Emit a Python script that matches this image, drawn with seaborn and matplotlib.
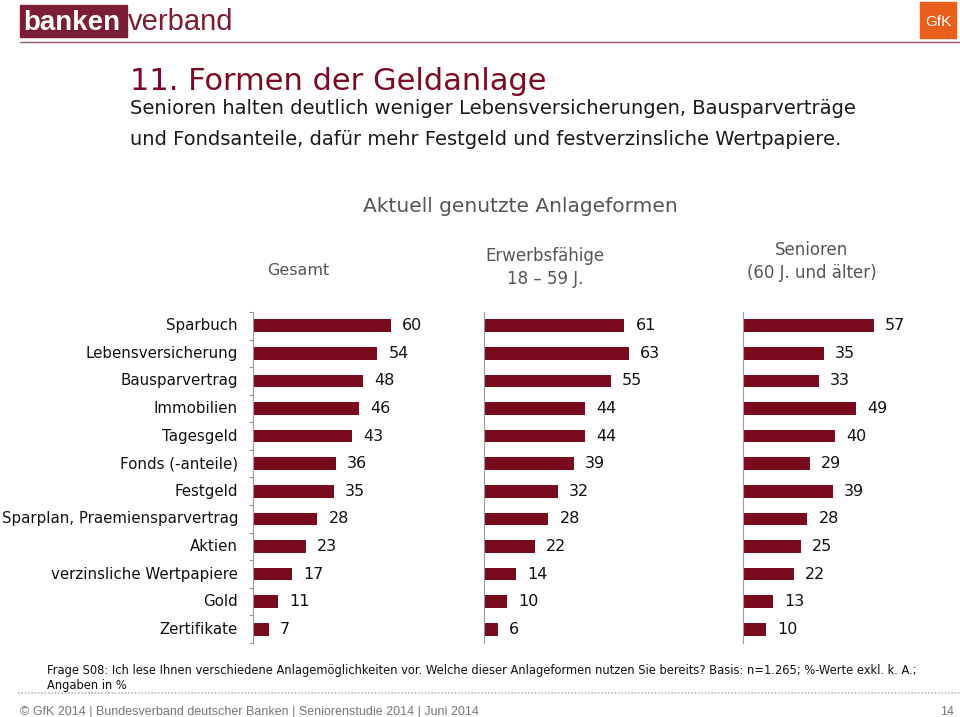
import pandas as pd
import matplotlib.pyplot as plt
import matplotlib.patches as mpatches
import seaborn as sns

sns.set_theme(style="white")
plt.rcParams['font.family'] = ['DejaVu Sans']

# data
categories = ['Sparbuch', 'Lebensversicherung', 'Bausparvertrag', 'Immobilien',
              'Tagesgeld', 'Fonds (-anteile)', 'Festgeld',
              'Sparplan, Praemiensparvertrag', 'Aktien',
              'verzinsliche Wertpapiere', 'Gold', 'Zertifikate']
gesamt = [60, 54, 48, 46, 43, 36, 35, 28, 23, 17, 11, 7]
erwerbsfaehige = [61, 63, 55, 44, 44, 39, 32, 28, 22, 14, 10, 6]
senioren = [57, 35, 33, 49, 40, 29, 39, 28, 25, 22, 13, 10]
panel_titles = ['Gesamt', 'Erwerbsfähige\n18 – 59 J.', 'Senioren\n(60 J. und älter)']

BAR = '#7A0A1E'
MAROON = '#7B0A24'
GRAY = '#555555'
NARROW = ['Liberation Sans', 'DejaVu Sans']

W, H = 960, 717
fig = plt.figure(figsize=(W / 100, H / 100), dpi=100)

# overlay axes in pixel coordinates for header/footer decorations
ov = fig.add_axes([0, 0, 1, 1])
ov.set_xlim(0, W)
ov.set_ylim(H, 0)
ov.axis('off')


def px_axes(left, top, width, bottom):
    return fig.add_axes([left / W, 1 - bottom / H, width / W, (bottom - top) / H])


PX_PER_UNIT = 2.3
top, bottom = 312, 643
panels = [(253, 230, gesamt), (484, 230, erwerbsfaehige), (743, 210, senioren)]

for i, (left, width, vals) in enumerate(panels):
    ax = px_axes(left, top, width, bottom)
    df = pd.DataFrame({'cat': categories, 'val': vals})
    sns.barplot(data=df, x='val', y='cat', orient='h', color=BAR,
                width=0.46, saturation=1, linewidth=0, ax=ax)
    ax.set_xlim(0, width / PX_PER_UNIT)
    ax.set_ylim(11.5, -0.5)
    ax.bar_label(ax.containers[0], padding=8, fontsize=11.5, color='#111111')
    for s in ['top', 'right', 'bottom']:
        ax.spines[s].set_visible(False)
    ax.spines['left'].set_color('#999999')
    ax.spines['left'].set_linewidth(0.8)
    ax.set_xticks([])
    ax.set_xlabel('')
    ax.set_ylabel('')
    ax.set_yticks([])
    if i == 0:
        ax.set_yticks([k - 0.5 for k in range(13)], minor=True)
        ax.tick_params(axis='y', which='minor', left=True, length=3,
                       width=0.8, color='#999999')
        for k, c in enumerate(categories):
            ax.text(-15 / PX_PER_UNIT, k, c, ha='right', va='center',
                    fontsize=10.8, color='#111111')

# header: logo
ov.add_patch(mpatches.Rectangle((20, 5), 107, 32, color='#7B1D34', zorder=2))
ov.text(23, 30, 'banken', color='white', fontsize=20, fontweight='bold',
        va='baseline', zorder=3, family=NARROW)
ov.text(128, 30, 'verband', color='#7B1D34', fontsize=21, va='baseline',
        family=NARROW)
ov.plot([20, 960], [42, 42], color='#8A5A6A', lw=1)
ov.add_patch(mpatches.Rectangle((920, 2), 36, 36, color='#E8601C'))
ov.text(938, 26, 'GfK', color='white', fontsize=11, ha='center', va='baseline',
        family=NARROW)

# titles
ov.text(130, 90, '11. Formen der Geldanlage', color=MAROON, fontsize=22,
        va='baseline')
ov.text(130, 114, 'Senioren halten deutlich weniger Lebensversicherungen, Bausparverträge',
        color='#1A1A1A', fontsize=14, va='baseline')
ov.text(130, 145, 'und Fondsanteile, dafür mehr Festgeld und festverzinsliche Wertpapiere.',
        color='#1A1A1A', fontsize=14, va='baseline')
ov.text(520, 212, 'Aktuell genutzte Anlageformen', color=GRAY, fontsize=14.5,
        ha='center', va='baseline')
ov.text(298, 275, panel_titles[0], color=GRAY, fontsize=11.5, ha='center',
        va='baseline')
ov.text(545, 284, panel_titles[1], color=GRAY, fontsize=12, ha='center',
        va='baseline', linespacing=1.35)
ov.text(812, 278, panel_titles[2], color=GRAY, fontsize=12, ha='center',
        va='baseline', linespacing=1.35)

# footer
ov.text(47, 674, 'Frage S08: Ich lese Ihnen verschiedene Anlagemöglichkeiten vor. '
        'Welche dieser Anlageformen nutzen Sie bereits? Basis: n=1.265; %-Werte exkl. k. A.;',
        fontsize=8.3, color='#111111', va='baseline')
ov.text(47, 689, 'Angaben in %', fontsize=8.3, color='#111111', va='baseline')
ov.plot([18, 960], [693, 693], color='#BBBBBB', lw=1.2, ls=(0, (1, 1)))
ov.text(20, 715, '© GfK 2014 | Bundesverband deutscher Banken | Seniorenstudie 2014 | Juni 2014',
        fontsize=9, color='#777777', va='baseline', family=NARROW)
ov.text(954, 715, '14', fontsize=9, color='#777777', ha='right', va='baseline',
        family=NARROW)

fig.savefig('out.png', dpi=100)
